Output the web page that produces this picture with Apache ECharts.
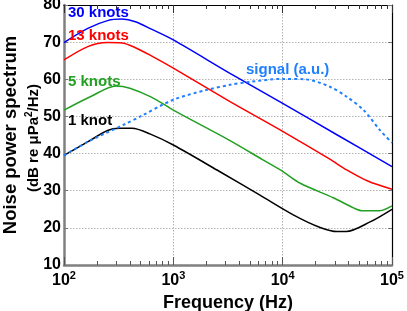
<!DOCTYPE html>
<html><head><meta charset="utf-8">
<script src="https://cdn.jsdelivr.net/npm/echarts@6/dist/echarts.min.js"></script>
<style>html,body{margin:0;padding:0;background:#fff}#c{width:407px;height:311px}</style>
</head><body><div id="c"></div>
<script>
const FONT = '"Liberation Sans", Arial, Helvetica, sans-serif';

// Frequencies (Hz) and levels (dB)
const freq30 = [100, 165, 250, 340, 450, 630, 1000, 3300, 10000, 31600, 100000];
const knots30 = [69.9, 73.7, 75.8, 76.2, 75.5, 73.5, 70.6, 61.6, 53.5, 45.0, 36.5];

const freq13 = [100, 165, 250, 340, 450, 630, 1000, 3300, 10000, 27000, 38500, 60000, 100000];
const knots13 = [65.2, 68.8, 69.9, 69.8, 68.5, 66.3, 63.0, 54.0, 46.0, 38.5, 35.6, 32.6, 30.4];

const freq5 = [100, 174, 300, 400, 630, 1000, 3300, 6600, 10000, 14500, 29000, 45000, 53000, 77000, 100000];
const knots5 = [51.7, 55.3, 58.2, 57.6, 55.2, 51.7, 43.5, 38.3, 35.2, 32.0, 28.1, 25.3, 24.6, 24.6, 25.9];

const freq1 = [100, 166, 250, 320, 420, 610, 1000, 2670, 6200, 12500, 22000, 31600, 38000, 63000, 100000];
const knots1 = [39.5, 43.2, 46.2, 46.8, 46.8, 45.3, 42.3, 35.1, 28.8, 23.5, 20.1, 19.0, 19.0, 21.6, 25.0];

const freqSig = [100, 166, 360, 500, 1000, 2000, 3300, 5000, 10000, 16000, 27000, 38500, 55000, 77600, 100000];
const signal = [39.5, 43.2, 47.9, 50.0, 54.5, 57.1, 58.5, 59.3, 60.1, 60.0, 58.0, 55.3, 51.7, 46.3, 42.9];

const seriesNames = ['30 knots', '13 knots', '5 knots', '1 knot', 'signal (a.u.)'];
const seriesColors = ['#0000ff', '#ff0000', '#22a022', '#000000', '#1f7fff'];

// Axis ticks
const xMajorTicks = [100, 1000, 10000, 100000];
const xMinorTicks = [200,300,400,500,600,700,800,900,2000,3000,4000,5000,6000,7000,8000,9000,20000,30000,40000,50000,60000,70000,80000,90000];
const yMin = 10, yMax = 80, yStep = 10;

function pairs(f, v) { return f.map((x, i) => [x, v[i]]); }
const dataSets = [pairs(freq30, knots30), pairs(freq13, knots13), pairs(freq5, knots5), pairs(freq1, knots1), pairs(freqSig, signal)];

const chart = echarts.init(document.getElementById('c'), null, {renderer: 'canvas'});

const gridLine = {show: true, lineStyle: {color: '#b4b4b4', width: 1, type: [1.5, 1.5]}};
const baseX = {type: 'log', logBase: 10, min: 100, max: 100000, gridIndex: 0};

const option = {
  animation: false,
  backgroundColor: '#fff',
  grid: {left: 64, right: 15, top: 5, bottom: 46, containLabel: false, outerBoundsMode: 'none'},
  xAxis: [
    Object.assign({}, baseX, {
      position: 'bottom',
      axisLine: {show: true, lineStyle: {color: '#808080', width: 2.5}},
      axisTick: {show: true, inside: true, length: 8, lineStyle: {color: '#555', width: 1}, customValues: xMajorTicks},
      axisLabel: {
        show: true, margin: 5, customValues: xMajorTicks,
        formatter: v => '{b|10}{s|' + Math.round(Math.log10(v)) + '}',
        rich: {
          b: {fontSize: 16, fontWeight: 'bold', fontFamily: FONT, color: '#000', verticalAlign: 'bottom', lineHeight: 19},
          s: {fontSize: 11, fontWeight: 'bold', fontFamily: FONT, color: '#000', verticalAlign: 'top', lineHeight: 19}
        }
      },
      splitLine: Object.assign({}, gridLine, {showMinLine: false, showMaxLine: false}),
      name: 'Frequency (Hz)', nameLocation: 'middle', nameGap: 25,
      nameTextStyle: {fontSize: 18, fontWeight: 'bold', fontFamily: FONT, color: '#000'}
    }),
    Object.assign({}, baseX, {
      position: 'bottom',
      axisLine: {show: false},
      axisTick: {show: true, inside: true, length: 4, lineStyle: {color: '#555', width: 1}, customValues: xMinorTicks},
      axisLabel: {show: false}, splitLine: {show: false}
    }),
    Object.assign({}, baseX, {
      position: 'top',
      axisLine: {show: true, onZero: false, lineStyle: {color: '#000', width: 1.2}},
      axisTick: {show: true, inside: true, length: 8, lineStyle: {color: '#333', width: 1}, customValues: xMajorTicks},
      axisLabel: {show: false}, splitLine: {show: false}
    }),
    Object.assign({}, baseX, {
      position: 'top',
      axisLine: {show: false},
      axisTick: {show: true, inside: true, length: 4, lineStyle: {color: '#333', width: 1}, customValues: xMinorTicks},
      axisLabel: {show: false}, splitLine: {show: false}
    })
  ],
  yAxis: [
    {
      type: 'value', min: yMin, max: yMax, interval: yStep, position: 'left',
      axisLine: {show: true, onZero: false, lineStyle: {color: '#808080', width: 2.5}},
      axisTick: {show: true, inside: true, length: 4, lineStyle: {color: '#777', width: 1}},
      axisLabel: {show: true, margin: 3, fontSize: 16, fontWeight: 'bold', fontFamily: FONT, color: '#000'},
      splitLine: Object.assign({}, gridLine, {showMinLine: false, showMaxLine: false})
    },
    {
      type: 'value', min: yMin, max: yMax, interval: yStep, position: 'right',
      axisLine: {show: true, onZero: false, lineStyle: {color: '#000', width: 1.2}},
      axisTick: {show: true, inside: true, length: 4, lineStyle: {color: '#777', width: 1}},
      axisLabel: {show: false}, splitLine: {show: false}
    }
  ],
  series: dataSets.map((d, i) => ({
    name: seriesNames[i], type: 'line', xAxisIndex: 0, yAxisIndex: 0,
    data: d, showSymbol: false, smooth: 0.3,
    lineStyle: {color: seriesColors[i], width: i === 4 ? 2 : 1.5, type: i === 4 ? [3, 3] : 'solid'},
    z: 3 + i
  })),
  graphic: [
    {type: 'text', left: 68, top: 5, z: 20, style: {text: seriesNames[0], fill: '#0000ff', font: 'bold 15px ' + FONT}},
    {type: 'text', left: 68, top: 28, z: 20, style: {text: seriesNames[1], fill: '#ff0000', font: 'bold 15px ' + FONT}},
    {type: 'text', left: 68, top: 74, z: 20, style: {text: seriesNames[2], fill: '#22a022', font: 'bold 15px ' + FONT}},
    {type: 'text', left: 68, top: 113, z: 20, style: {text: seriesNames[3], fill: '#000000', font: 'bold 15px ' + FONT}},
    {type: 'text', left: 246, top: 62, z: 20, style: {text: seriesNames[4], fill: '#1f7fff', font: 'bold 15px ' + FONT}},
    {type: 'text', x: 11, y: 135, rotation: Math.PI / 2, z: 20,
     style: {text: 'Noise power spectrum', fill: '#000', font: 'bold 18.5px ' + FONT, align: 'center', verticalAlign: 'middle'}},
    {type: 'text', x: 33, y: 138, rotation: Math.PI / 2, z: 20,
     style: {text: '{b|(dB re μPa}{s|2}{b|/Hz)}', align: 'center', verticalAlign: 'middle',
       rich: {
         b: {fontSize: 15, fontWeight: 'bold', fontFamily: FONT, fill: '#000', verticalAlign: 'bottom', lineHeight: 17},
         s: {fontSize: 10, fontWeight: 'bold', fontFamily: FONT, fill: '#000', verticalAlign: 'top', lineHeight: 17}
       }}}
  ]
};
chart.setOption(option);
</script>
</body></html>
